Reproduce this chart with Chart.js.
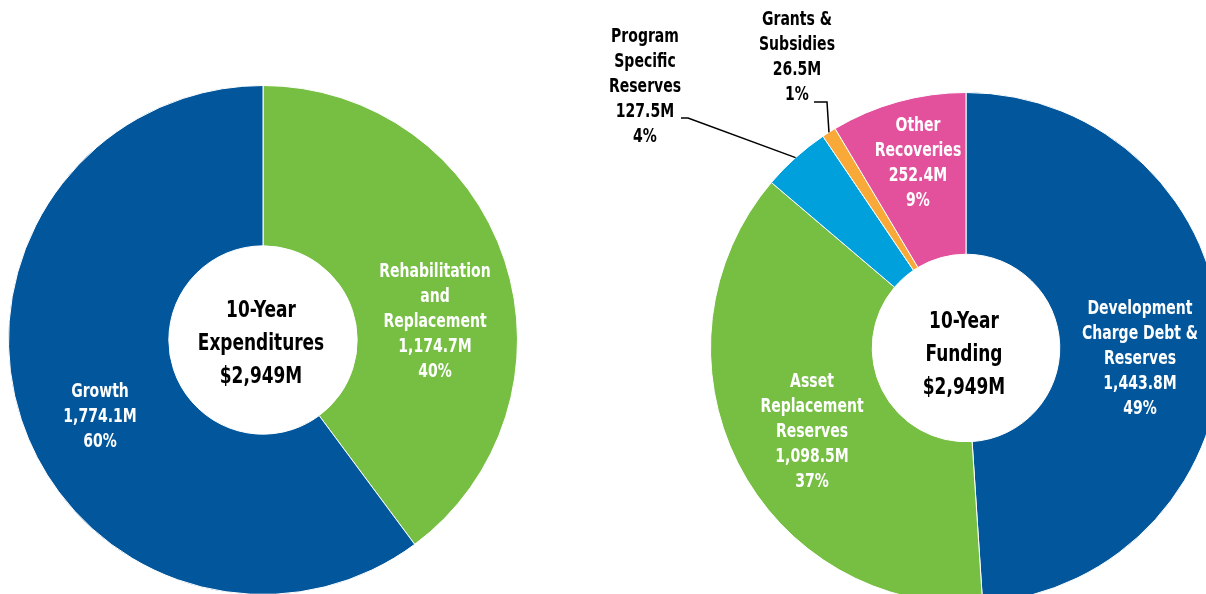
<!DOCTYPE html>
<html>
<head>
<meta charset="utf-8">
<script src="https://cdn.jsdelivr.net/npm/chart.js@4.4.0/dist/chart.umd.min.js"></script>
<style>
  html, body { margin: 0; padding: 0; background: #fff; }
  body { width: 1206px; height: 594px; overflow: hidden; position: relative; }
  canvas { position: absolute; left: 0; top: 0; }
</style>
</head>
<body>
<canvas id="expChart" width="1240" height="620"></canvas>
<canvas id="fundChart" width="1240" height="620"></canvas>
<script>
// 10-year expenditures
const expNames = [['Rehabilitation', 'and', 'Replacement'], ['Growth']];
const expValues = [1174.7, 1774.1];
const expPercents = [40, 60];
const expColors = ['#76BF43', '#02569B'];

// 10-year funding
const fundNames = [
  ['Development', 'Charge Debt &', 'Reserves'],
  ['Asset', 'Replacement', 'Reserves'],
  ['Program', 'Specific', 'Reserves'],
  ['Grants &', 'Subsidies'],
  ['Other', 'Recoveries']
];
const fundValues = [1443.8, 1098.5, 127.5, 26.5, 252.4];
const fundPercents = [49, 37, 4, 1, 9];
const fundColors = ['#02569B', '#76BF43', '#00A0DC', '#F8A937', '#E3519D'];

const FONT = '"DejaVu Sans Condensed", "DejaVu Sans", sans-serif';
const SQUEEZE = 0.82; // narrow the bold type horizontally

function fmtM(v) {
  return v.toLocaleString('en-US', { minimumFractionDigits: 1, maximumFractionDigits: 1 }) + 'M';
}

function totalText(values) {
  const t = values.reduce((a, b) => a + b, 0);
  return '$' + Math.round(t).toLocaleString('en-US') + 'M';
}

function narrowText(ctx, txt, x, y) {
  ctx.save();
  ctx.translate(x, y);
  ctx.scale(SQUEEZE, 1);
  ctx.fillText(txt, 0, 0);
  ctx.restore();
}

// label placement relative to the doughnut centre, plus optional leader line
function labelPlugin(id, names, values, percents, place, title) {
  return {
    id: id,
    afterDraw(chart) {
      const ctx = chart.ctx;
      const arcs = chart.getDatasetMeta(0).data;
      const cx = arcs[0].x, cy = arcs[0].y;
      ctx.save();
      ctx.textAlign = 'center';
      ctx.textBaseline = 'middle';

      names.forEach((nm, i) => {
        const p = place[i];
        const lines = nm.concat([fmtM(values[i]), percents[i] + '%']);
        ctx.font = 'bold 19px ' + FONT;
        ctx.fillStyle = p.color;
        lines.forEach((ln, k) => {
          narrowText(ctx, ln, cx + p.dx, cy + p.dy + k * 25);
        });
        if (p.leader) {
          const a = arcs[i];
          const mid = (a.startAngle + a.endAngle) / 2;
          const ex = cx + Math.cos(mid) * a.outerRadius;
          const ey = cy + Math.sin(mid) * a.outerRadius;
          ctx.strokeStyle = '#000';
          ctx.lineWidth = 1.5;
          ctx.beginPath();
          ctx.moveTo(cx + p.leader[0], cy + p.leader[1]);
          ctx.lineTo(cx + p.leader[2], cy + p.leader[3]);
          ctx.lineTo(ex, ey);
          ctx.stroke();
        }
      });

      // centre title
      ctx.font = 'bold 23px ' + FONT;
      ctx.fillStyle = '#000';
      title.lines.forEach((ln, k) => {
        narrowText(ctx, ln, cx + title.dx, cy + title.dy + k * 33);
      });
      ctx.restore();
    }
  };
}

function doughnut(el, values, colors, cutout, padding, plugin) {
  return new Chart(document.getElementById(el), {
    type: 'doughnut',
    data: {
      labels: values.map((v, i) => 'slice ' + i),
      datasets: [{
        data: values,
        backgroundColor: colors,
        borderColor: '#ffffff',
        borderWidth: 1,
        hoverOffset: 0
      }]
    },
    options: {
      responsive: false,
      animation: false,
      cutout: cutout,
      layout: { padding: padding },
      plugins: { legend: { display: false }, tooltip: { enabled: false } },
      events: []
    },
    plugins: [plugin]
  });
}

doughnut('expChart', expValues, expColors, '37%',
  { left: 8, top: 85, right: 722, bottom: 25 },
  labelPlugin('expLabels', expNames, expValues, expPercents, [
    { dx: 172, dy: -68, color: '#fff' },
    { dx: -163, dy: 52, color: '#fff' }
  ], { lines: ['10-Year', 'Expenditures', totalText(expValues)], dx: -2, dy: -29 }));

doughnut('fundChart', fundValues, fundColors, '36.7%',
  { left: 710, top: 92, right: 18, bottom: 16 },
  labelPlugin('fundLabels', fundNames, fundValues, fundPercents, [
    { dx: 174, dy: -39, color: '#fff' },
    { dx: -154, dy: 34, color: '#fff' },
    { dx: -321, dy: -311, color: '#000', leader: [-285, -230, -278, -230] },
    { dx: -169, dy: -328, color: '#000', leader: [-152, -246, -139, -246] },
    { dx: -48, dy: -222, color: '#fff' }
  ], { lines: ['10-Year', 'Funding', totalText(fundValues)], dx: -2, dy: -26 }));
</script>
</body>
</html>
